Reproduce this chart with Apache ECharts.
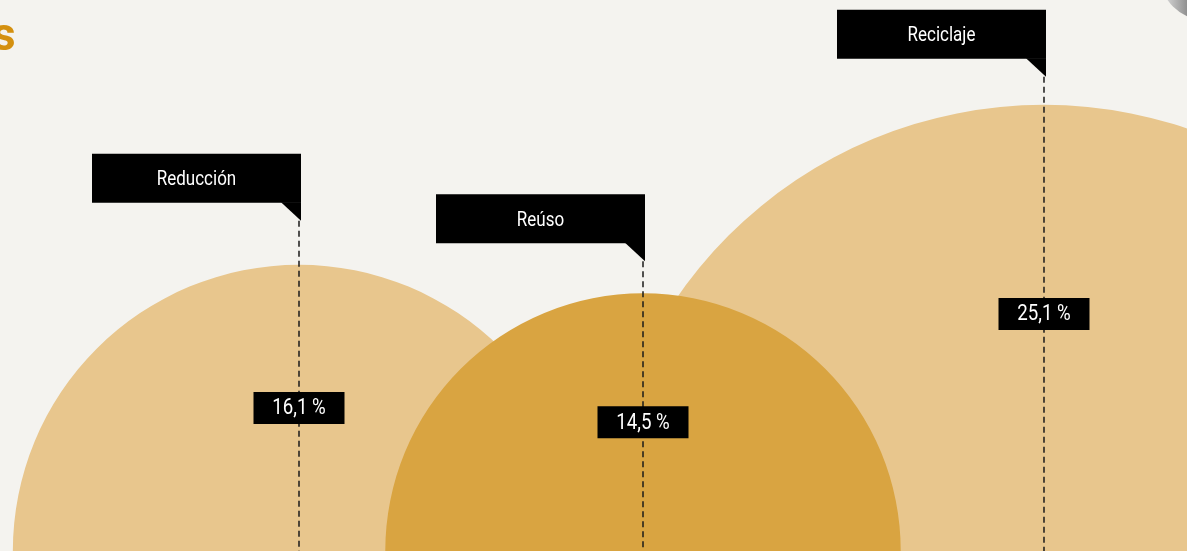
<!DOCTYPE html>
<html>
<head>
<meta charset="utf-8">
<script src="https://cdn.jsdelivr.net/npm/echarts@6/dist/echarts.min.js"></script>
<style>
html,body{margin:0;padding:0;background:#f4f3ef;}
#chart{width:1187px;height:551px;}
</style>
</head>
<body>
<div id="chart"></div>
<script>
// ---- data ----
var categories = ['Reducción', 'Reúso', 'Reciclaje'];
var values = [16.1, 14.5, 25.1];
var valueLabels = ['16,1 %', '14,5 %', '25,1 %'];

// ---- layout / style (not data) ----
var circleColors = ['#e8c68d', '#d9a441', '#e8c68d'];
var xShift = [0, -28.5, 0];          // horizontal nudge of each bubble (px)
var nameLift = [62, 50, 46];         // gap between bubble top and name box bottom (px)
var valueLift = [0, 0, 14];          // nudge of value box above bubble mid-height (px)
var FONT = 'Roboto, "DejaVu Sans", sans-serif';
var SQUEEZE = 0.85;

var chart = echarts.init(document.getElementById('chart'));

function label(text, x, y, size) {
  return {type: 'text', x: x, y: y, scaleX: SQUEEZE, z2: 220,
    style: {text: text, x: 0, y: 0, align: 'center', verticalAlign: 'middle',
      fill: '#fff', font: size + 'px ' + FONT}};
}

function renderItem(params, api) {
  var i = params.dataIndex;
  var v = api.value(1);
  var base = api.coord([api.value(0), 0]);
  var top = api.coord([api.value(0), v]);
  var cx = base[0] + xShift[i];
  var cy = base[1];
  var r = cy - top[1];
  var circleTop = cy - r;

  var boxW = 209, boxH = 49;
  var boxRight = cx + 2;
  var boxBottom = circleTop - nameLift[i];
  var tailTip = boxBottom + 18;

  var valY = cy - r / 2 - valueLift[i];
  var vbW = 91, vbH = 32;

  return {
    type: 'group',
    children: [
      {type: 'circle', shape: {cx: cx, cy: cy, r: r}, style: {fill: circleColors[i]}, z2: 100 - v},
      {type: 'line', shape: {x1: cx, y1: tailTip, x2: cx, y2: 560},
        style: {stroke: '#1a1a1a', lineWidth: 1.5, lineDash: [6, 4]}, z2: 200},
      {type: 'rect', shape: {x: boxRight - boxW, y: boxBottom - boxH, width: boxW, height: boxH},
        style: {fill: '#000'}, z2: 210},
      {type: 'polygon', shape: {points: [[boxRight - 20, boxBottom - 0.5], [boxRight, boxBottom - 0.5], [boxRight, tailTip]]},
        style: {fill: '#000'}, z2: 210},
      label(categories[i], boxRight - boxW / 2, boxBottom - boxH / 2 + 2, 20),
      {type: 'rect', shape: {x: cx - vbW / 2, y: valY - vbH / 2, width: vbW, height: vbH},
        style: {fill: '#000'}, z2: 210},
      label(valueLabels[i], cx, valY + 1, 22)
    ]
  };
}

chart.setOption({
  animation: false,
  backgroundColor: '#f4f3ef',
  grid: {left: 0, width: 1187, top: 0, height: 552, containLabel: false},
  xAxis: {type: 'value', min: -0.8027, max: 2.3839, show: false},
  yAxis: {type: 'value', min: 0, max: 31, show: false},
  graphic: [
    {type: 'text', left: -8, top: 15, style: {text: 's', fill: '#d4900f', font: 'bold 46px ' + FONT}},
    {type: 'circle', shape: {cx: 1205, cy: -25, r: 45},
      style: {fill: new echarts.graphic.LinearGradient(0, 0, 1, 0, [{offset: 0, color: '#e4e4e4'}, {offset: 0.12, color: '#c4c4c4'}, {offset: 0.3, color: '#909090'}])}}
  ],
  series: [{
    type: 'custom',
    renderItem: renderItem,
    data: values.map(function (v, i) { return [i, v]; })
  }]
});
</script>
</body>
</html>
